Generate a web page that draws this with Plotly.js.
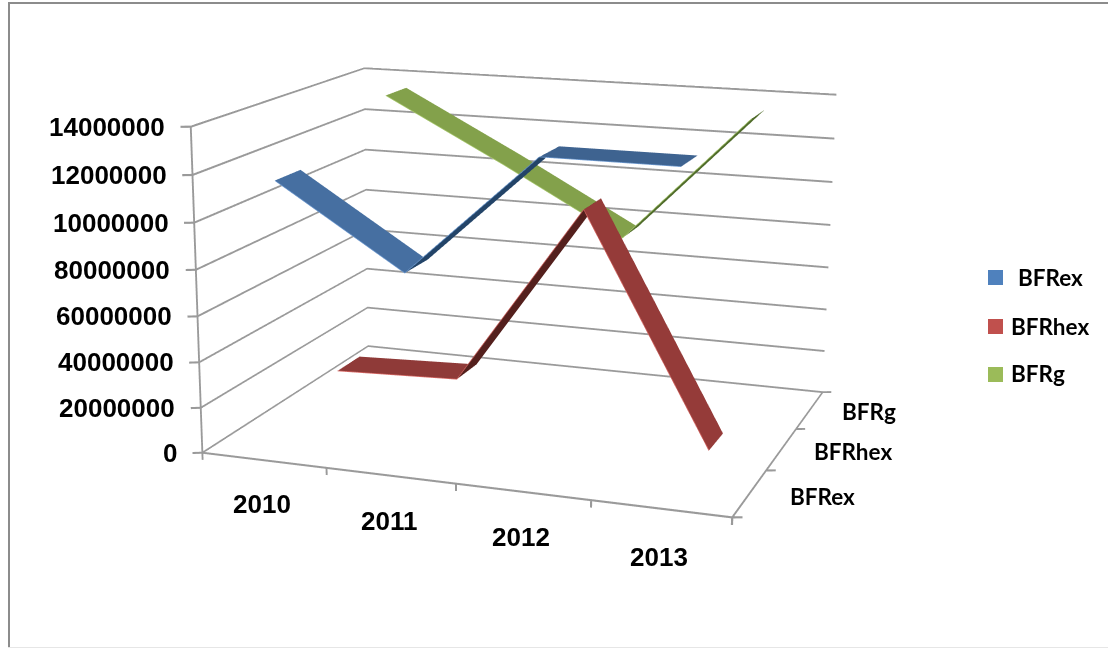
<!DOCTYPE html>
<html><head><meta charset="utf-8"><script src="https://cdn.plot.ly/plotly-3.0.1.min.js"></script>
<style>
html,body{margin:0;padding:0;background:#fff;overflow:hidden}
#wrap{position:fixed;left:0;top:0;width:1108px;height:648px;overflow:hidden}
#c{position:absolute;left:-691px;top:-537px;width:2400px;height:1752px}
</style></head><body><div id="wrap"><div id="c"></div></div>
<script>
// Three-series 3-D ribbon line chart over four years.
var years=['2010','2011','2012','2013'];
var seriesNames=['BFRex','BFRhex','BFRg'];
var BFRex=[116500000,82000000,134000000,134000000];
var BFRhex=[18000000,20000000,101000000,0];
var BFRg=[134500000,106000000,76000000,134000000];
var valueTicks=[0,20000000,40000000,60000000,80000000,100000000,120000000,140000000];
var valueLabels=['0','20000000','40000000','60000000','80000000','10000000','12000000','14000000'];
var legendColors=['#4f81bd','#c0504d','#9bbb59'];
var fallColors=['#466fa1','#953b39','#83a14b'];
var flatColors=['#3e6390','#8f3a38','#83a14b'];
var riseColors=['#234468','#54201d','#4f6b2a'];
var edgeColors=['#6f9bd1','#d96a66','#a9c96f'];
var seriesValues=[BFRex,BFRhex,BFRg];

var halfDepth=0.21, valueMax=140000000;
// The plot is larger than the window so the scene gets a narrow field of view.
var W=2400,H=1752,OX=691,OY=537;
function px(x){return (x+OX)/W;}
function py(y){return 1-(y+OY)/H;}
var flatLight={ambient:1,diffuse:0,specular:0,fresnel:0,roughness:1};

var traces=[];
seriesValues.forEach(function(v,s){
  var xs=[],ys=[],zs=[],ii=[],jj=[],kk=[],fc=[];
  v.forEach(function(val,i){
    xs.push(i+0.5,i+0.5); ys.push(s+0.5-halfDepth,s+0.5+halfDepth); zs.push(val,val);
  });
  for(var i=0;i<v.length-1;i++){
    var a=2*i, d=v[i+1]-v[i];
    var col=d>valueMax*0.1?riseColors[s]:(Math.abs(d)<valueMax*0.03?flatColors[s]:fallColors[s]);
    ii.push(a,a+1); jj.push(a+1,a+3); kk.push(a+2,a+2); fc.push(col,col);
  }
  traces.push({type:'mesh3d',name:seriesNames[s],x:xs,y:ys,z:zs,i:ii,j:jj,k:kk,facecolor:fc,flatshading:true,
    lighting:flatLight,hoverinfo:'skip'});
  traces.push({type:'scatter3d',mode:'lines',showlegend:false,hoverinfo:'skip',
    x:v.map(function(_,i){return i+0.5;}),y:v.map(function(){return s+0.5-halfDepth;}),z:v,
    line:{color:edgeColors[s],width:1.5}});
});

// Wall gridlines, axis lines and tick marks, built as thin strips for a 2px stroke
var gx=[],gy=[],gz=[],gi=[],gj=[],gk=[];
function strip(p,q,off){
  var n=gx.length;
  [[p,-1],[p,1],[q,-1],[q,1]].forEach(function(e){
    gx.push(e[0][0]+e[1]*off[0]);gy.push(e[0][1]+e[1]*off[1]);gz.push(e[0][2]+e[1]*off[2]);
  });
  gi.push(n,n+1);gj.push(n+1,n+3);gk.push(n+2,n+2);
}
var zThick=[0,0,450000], xThick=[0.0075,0,0];
valueTicks.forEach(function(t){
  strip([0,0,t],[0,3,t],zThick);
  strip([0,3,t],[4,3,t],zThick);
  strip([0,0,t],[-0.065,-0.03,t],zThick);
});
strip([0,0,0],[0,0,valueMax],xThick);
strip([0,0,0],[4,0,0],zThick);
strip([4,0,0],[4,3,0],xThick);
[0,1,2,3,4].forEach(function(c){strip([c,0,0],[c,0,-3200000],xThick);});
[0,1,2,3].forEach(function(c){strip([4,c,0],[4.065,c+0.025,0],zThick);});
traces.unshift({type:'mesh3d',x:gx,y:gy,z:gz,i:gi,j:gj,k:gk,color:'#9a9a9a',flatshading:true,lighting:flatLight,hoverinfo:'skip'});

var tickFont={family:'Liberation Sans',size:26,color:'#000',weight:700};
var seriesFont={family:'Lato',size:22.5,color:'#000',weight:700};
var sceneAnn=[];
valueTicks.forEach(function(t,i){
  sceneAnn.push({x:0,y:0,z:t,text:valueLabels[i],showarrow:false,xanchor:'right',yanchor:'middle',xshift:-23.5,yshift:0,font:tickFont});
});
var yearShift=[-44,-45.5,-45,-48];
years.forEach(function(y,i){
  sceneAnn.push({x:i+0.5,y:0,z:0,text:y,showarrow:false,xanchor:'center',yanchor:'middle',xshift:-2,yshift:yearShift[i],font:tickFont});
});
var seriesShiftX=[38,30,30], seriesShiftY=[-3,-2,-1];
seriesNames.forEach(function(n,s){
  sceneAnn.push({x:4,y:s+0.5,z:0,text:n,showarrow:false,xanchor:'left',yanchor:'middle',xshift:seriesShiftX[s],yshift:seriesShiftY[s],font:seriesFont});
});

// Chart frame, legend swatches and legend labels
var legendY=[277.5,326.5,374.5], legendTextX=[1016,1009,1009];
function hline(x0,x1,y,c,w){return {type:'line',xref:'paper',yref:'paper',x0:px(x0),x1:px(x1),y0:py(y),y1:py(y),line:{color:c,width:w}};}
var shapes=[
  hline(8,1108,3,'#8c8c8c',2),
  {type:'line',xref:'paper',yref:'paper',x0:px(9),x1:px(9),y0:py(2),y1:py(648),line:{color:'#8c8c8c',width:2}},
  hline(8,1108,647.5,'#e6e6e6',1)
];
var ann=[];
seriesNames.forEach(function(n,s){
  shapes.push({type:'rect',xref:'paper',yref:'paper',x0:px(988),x1:px(1003),y0:py(legendY[s]-7.5),y1:py(legendY[s]+7.5),line:{width:0},fillcolor:legendColors[s]});
  ann.push({xref:'paper',yref:'paper',x:px(legendTextX[s]),y:py(legendY[s]-0.5),text:n,showarrow:false,xanchor:'left',yanchor:'middle',font:seriesFont});
});

function axis(range){return {range:range,autorange:false,showticklabels:false,tickmode:'array',tickvals:[],
  title:{text:''},showgrid:false,zeroline:false,showbackground:false,showspikes:false,showline:false,ticks:''};}

Plotly.newPlot('c',traces,{
 width:W,height:H,margin:{l:0,r:0,t:0,b:0,pad:0},paper_bgcolor:'#fff',showlegend:false,
 shapes:shapes,annotations:ann,
 scene:{domain:{x:[0,1],y:[0,1]},dragmode:false,
  camera:{eye:{x:2.069,y:-6.096,z:1.5548},center:{x:-0.035,y:-0.081,z:-0.2012},up:{x:-0.0045,y:-0.0016,z:1},projection:{type:'perspective'}},
  aspectmode:'manual',aspectratio:{x:1.7304,y:1.3278,z:1.0261},
  xaxis:axis([-0.1,4.1]),yaxis:axis([-0.05,3.05]),zaxis:axis([-3200000,valueMax+450000]),annotations:sceneAnn}
},{displayModeBar:false});
</script></body></html>
